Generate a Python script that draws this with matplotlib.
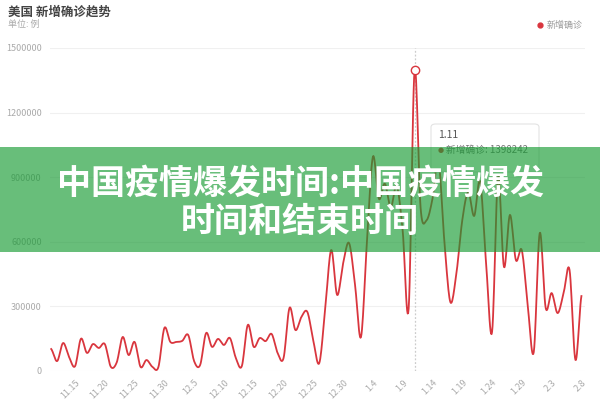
import numpy as np
import matplotlib
matplotlib.use("Agg")
import matplotlib.pyplot as plt
from matplotlib.patches import FancyBboxPatch, Rectangle

plt.rcParams['font.family'] = ['Noto Sans CJK SC', 'DejaVu Sans']

# ---- data ----
dates = ["11.11", "11.12", "11.13", "11.14", "11.15", "11.16", "11.17", "11.18", "11.19", "11.20",
         "11.21", "11.22", "11.23", "11.24", "11.25", "11.26", "11.27", "11.28", "11.29", "11.30",
         "12.1", "12.2", "12.3", "12.4", "12.5", "12.6", "12.7", "12.8", "12.9", "12.10",
         "12.11", "12.12", "12.13", "12.14", "12.15", "12.16", "12.17", "12.18", "12.19", "12.20",
         "12.21", "12.22", "12.23", "12.24", "12.25", "12.26", "12.27", "12.28", "12.29", "12.30",
         "12.31", "1.1", "1.2", "1.3", "1.4", "1.5", "1.6", "1.7", "1.8", "1.9",
         "1.10", "1.11", "1.12", "1.13", "1.14", "1.15", "1.16", "1.17", "1.18", "1.19",
         "1.20", "1.21", "1.22", "1.23", "1.24", "1.25", "1.26", "1.27", "1.28", "1.29",
         "1.30", "1.31", "2.1", "2.2", "2.3", "2.4", "2.5", "2.6", "2.7", "2.8"]
new_cases = [102000, 46000, 130000, 65000, 22000, 150000, 84000, 125000, 107000, 125000,
             20000, 40000, 158000, 74000, 135000, 19000, 51000, 19000, 19000, 200000,
             135000, 135000, 140000, 167000, 45000, 28000, 176000, 112000, 149000, 121000,
             153000, 60000, 23000, 214000, 112000, 153000, 139000, 172000, 84000, 60000,
             293000, 190000, 251000, 274000, 140000, 37000, 290000, 562000, 353000, 500000,
             594000, 400000, 158000, 600000, 995000, 800000, 870000, 760000, 860000, 650000,
             290000, 1398242, 760000, 700000, 800000, 980000, 600000, 320000, 450000, 700000,
             830000, 720000, 880000, 500000, 181000, 900000, 483000, 725000, 515000, 560000,
             300000, 88000, 641000, 293000, 362000, 269000, 360000, 470000, 51000, 348000]
y_ticks = [0, 300000, 600000, 900000, 1200000, 1500000]
highlight_date = "1.11"
series_name = "新增确诊"
chart_title = "美国 新增确诊趋势"
unit_text = "单位: 例"
banner_lines = ["中国疫情爆发时间:中国疫情爆发", "时间和结束时间"]

# ---- smoothing (Catmull-Rom, render only) ----
def smooth(xs, ys, n=12):
    xs = np.asarray(xs, float); ys = np.asarray(ys, float)
    out_x, out_y = [], []
    N = len(xs)
    for i in range(N - 1):
        p0 = ys[max(i - 1, 0)]; p1 = ys[i]; p2 = ys[i + 1]; p3 = ys[min(i + 2, N - 1)]
        t = np.linspace(0, 1, n, endpoint=False)
        m1 = (p2 - p0) / 2.0; m2 = (p3 - p1) / 2.0
        h00 = 2*t**3 - 3*t**2 + 1; h10 = t**3 - 2*t**2 + t
        h01 = -2*t**3 + 3*t**2; h11 = t**3 - t**2
        out_y.append(h00*p1 + h10*m1 + h01*p2 + h11*m2)
        out_x.append(xs[i] + t*(xs[i+1]-xs[i]))
    out_x.append([xs[-1]]); out_y.append([ys[-1]])
    return np.concatenate(out_x), np.concatenate(out_y)

x = np.arange(len(dates))
sx, sy = smooth(x, new_cases)

fig = plt.figure(figsize=(6, 4), dpi=100)
fig.patch.set_facecolor('white')
ax = fig.add_axes([50/600, 1-371/400, 535/600, 323/400])
ax.set_xlim(-0.2, 89.6)
ax.set_ylim(0, 1500000)
for s in ax.spines.values():
    s.set_visible(False)
ax.set_yticks(y_ticks)
ax.set_yticklabels([str(v) for v in y_ticks])
ax.tick_params(axis='y', length=0, labelsize=6.5, labelcolor='#aaaaaa', pad=6)
ax.grid(axis='y', color='#f0f0f0', linewidth=0.8)
ax.set_axisbelow(True)

tick_idx = list(range(4, len(dates), 5))
ax.set_xticks(tick_idx)
ax.set_xticklabels([dates[i] for i in tick_idx], rotation=45, ha='right', va='top',
                   rotation_mode='anchor')
ax.tick_params(axis='x', length=0, labelsize=6.5, labelcolor='#aaaaaa', pad=5)

ax.plot(sx, sy, color='#d9363e', linewidth=1.3, zorder=3)

hi = dates.index(highlight_date)
ax.axvline(hi, color='#cccccc', linestyle=(0, (1.5, 1.5)), linewidth=0.9, zorder=2)
ax.plot([hi], [new_cases[hi]], marker='o', markersize=6, markerfacecolor='white',
        markeredgecolor='#d9363e', markeredgewidth=1.0, zorder=4)

# titles
fig.text(8/600, 1-12/400, chart_title, fontsize=9, fontweight='bold', color='#444444',
         va='center', ha='left')
fig.text(8/600, 1-24/400, unit_text, fontsize=6.5, color='#aaaaaa', va='center', ha='left')
# legend
fig.lines.append(plt.Line2D([540/600], [1-25/400], marker='o', markersize=3.5,
                            color='#d9363e', transform=fig.transFigure))
fig.text(547/600, 1-25/400, series_name, fontsize=6.5, color='#999999', va='center', ha='left')

# tooltip
tip = FancyBboxPatch((431/600, 1-172/400), 108/600, 48/400,
                     boxstyle="round,pad=0,rounding_size=0.008",
                     transform=fig.transFigure, facecolor='white', edgecolor='#e3e3e3',
                     linewidth=0.8, zorder=5)
fig.patches.append(tip)
fig.text(438/600, 1-135/400, highlight_date, fontsize=7.5, color='#555555', va='center',
         ha='left', zorder=6)
fig.text(438/600, 1-150/400, "\u25CF", fontsize=5, color='#d9363e', va='center', ha='left',
         zorder=6, family=['DejaVu Sans'])
fig.text(446/600, 1-150/400, f"{series_name}: {new_cases[hi]}", fontsize=7, color='#777777',
         va='center', ha='left', zorder=6)

# banner
band = Rectangle((0, 1-252/400), 1, 105/400, transform=fig.transFigure,
                 facecolor='#179b33', alpha=0.65, edgecolor='none', zorder=10)
fig.patches.append(band)
fig.text(0.5, 1-183/400, banner_lines[0], fontsize=24.5, fontweight='bold', color='white',
         ha='center', va='center', zorder=11)
fig.text(0.5, 1-221/400, banner_lines[1], fontsize=24.5, fontweight='bold', color='white',
         ha='center', va='center', zorder=11)

fig.savefig("out.png", dpi=100)
